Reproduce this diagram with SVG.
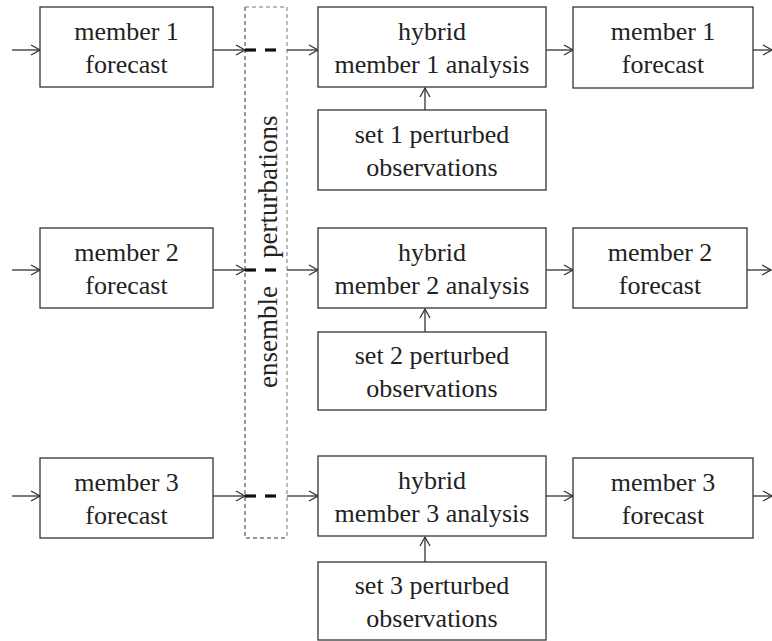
<svg xmlns="http://www.w3.org/2000/svg" width="772" height="641" viewBox="0 0 772 641">
<defs>
<marker id="ah" markerWidth="12" markerHeight="12" refX="10" refY="6" orient="auto" markerUnits="userSpaceOnUse">
<path d="M1,1 L10,6 L1,11" fill="none" stroke="#333" stroke-width="1.3"/>
</marker>
<style>
.box{fill:#fff;stroke:#333;stroke-width:1.3}
text{font-family:"Liberation Serif","Times New Roman",Times,Tinos,"Noto Serif","DejaVu Serif",serif;font-size:26px;fill:#222;text-anchor:middle}
.c{fill:none;stroke:#333;stroke-width:1.3;marker-end:url(#ah)}
.d{stroke:#111;stroke-width:3.2}
</style>
</defs>
<rect x="0" y="0" width="772" height="641" fill="#fff"/>

<g id="ensemble">
<path d="M245,7 V538 H287" fill="none" stroke="#333" stroke-width="1" stroke-dasharray="4 3"/>
<path d="M245,7 H287 V538" fill="none" stroke="#777" stroke-width="1" stroke-dasharray="4 3"/>
<text transform="translate(277,388) rotate(-90)" style="text-anchor:start;font-size:27px">ensemble<tspan dx="28">perturbations</tspan></text>
</g>

<g id="connectors">
<line class="c" x1="12" y1="50" x2="40" y2="50"/>
<line class="c" x1="213" y1="50" x2="245" y2="50"/>
<line class="c" x1="287" y1="50" x2="318" y2="50"/>
<line class="c" x1="546" y1="50" x2="573" y2="50"/>
<line class="c" x1="753" y1="50" x2="772" y2="50"/>
<line class="c" x1="425" y1="110" x2="425" y2="88"/>

<line class="c" x1="12" y1="270" x2="40" y2="270"/>
<line class="c" x1="213" y1="270" x2="245" y2="270"/>
<line class="c" x1="287" y1="270" x2="318" y2="270"/>
<line class="c" x1="546" y1="270" x2="573" y2="270"/>
<line class="c" x1="747" y1="270" x2="771" y2="270"/>
<line class="c" x1="425" y1="332" x2="425" y2="309"/>

<line class="c" x1="12" y1="496" x2="40" y2="496"/>
<line class="c" x1="213" y1="496" x2="245" y2="496"/>
<line class="c" x1="287" y1="496" x2="318" y2="496"/>
<line class="c" x1="546" y1="496" x2="573" y2="496"/>
<line class="c" x1="753" y1="496" x2="772" y2="496"/>
<line class="c" x1="425" y1="562" x2="425" y2="537"/>

<line class="d" x1="245" y1="50" x2="256" y2="50"/>
<line class="d" x1="265" y1="50" x2="276" y2="50"/>
<line class="d" x1="245" y1="270" x2="256" y2="270"/>
<line class="d" x1="265" y1="270" x2="276" y2="270"/>
<line class="d" x1="245" y1="496" x2="256" y2="496"/>
<line class="d" x1="265" y1="496" x2="276" y2="496"/>
</g>

<g id="m1f">
<rect class="box" x="40" y="7" width="173" height="80"/>
<text x="126.5" y="40">member 1</text><text x="126.5" y="73">forecast</text>
</g>
<g id="h1">
<rect class="box" x="318" y="7" width="228" height="80"/>
<text x="432" y="40">hybrid</text><text x="432" y="73">member 1 analysis</text>
</g>
<g id="o1">
<rect class="box" x="318" y="110" width="228" height="80"/>
<text x="432" y="143">set 1 perturbed</text><text x="432" y="176">observations</text>
</g>
<g id="m1n">
<rect class="box" x="573" y="7" width="180" height="81"/>
<text x="663" y="40">member 1</text><text x="663" y="73">forecast</text>
</g>

<g id="m2f">
<rect class="box" x="40" y="228" width="173" height="80"/>
<text x="126.5" y="261">member 2</text><text x="126.5" y="294">forecast</text>
</g>
<g id="h2">
<rect class="box" x="318" y="228" width="228" height="80"/>
<text x="432" y="261">hybrid</text><text x="432" y="294">member 2 analysis</text>
</g>
<g id="o2">
<rect class="box" x="318" y="332" width="228" height="78"/>
<text x="432" y="364">set 2 perturbed</text><text x="432" y="397">observations</text>
</g>
<g id="m2n">
<rect class="box" x="573" y="228" width="174" height="80"/>
<text x="660" y="261">member 2</text><text x="660" y="294">forecast</text>
</g>

<g id="m3f">
<rect class="box" x="40" y="458" width="173" height="80"/>
<text x="126.5" y="491">member 3</text><text x="126.5" y="524">forecast</text>
</g>
<g id="h3">
<rect class="box" x="318" y="456" width="228" height="80"/>
<text x="432" y="489">hybrid</text><text x="432" y="522">member 3 analysis</text>
</g>
<g id="o3">
<rect class="box" x="318" y="562" width="228" height="78"/>
<text x="432" y="594">set 3 perturbed</text><text x="432" y="627">observations</text>
</g>
<g id="m3n">
<rect class="box" x="573" y="458" width="180" height="80"/>
<text x="663" y="491">member 3</text><text x="663" y="524">forecast</text>
</g>
</svg>
